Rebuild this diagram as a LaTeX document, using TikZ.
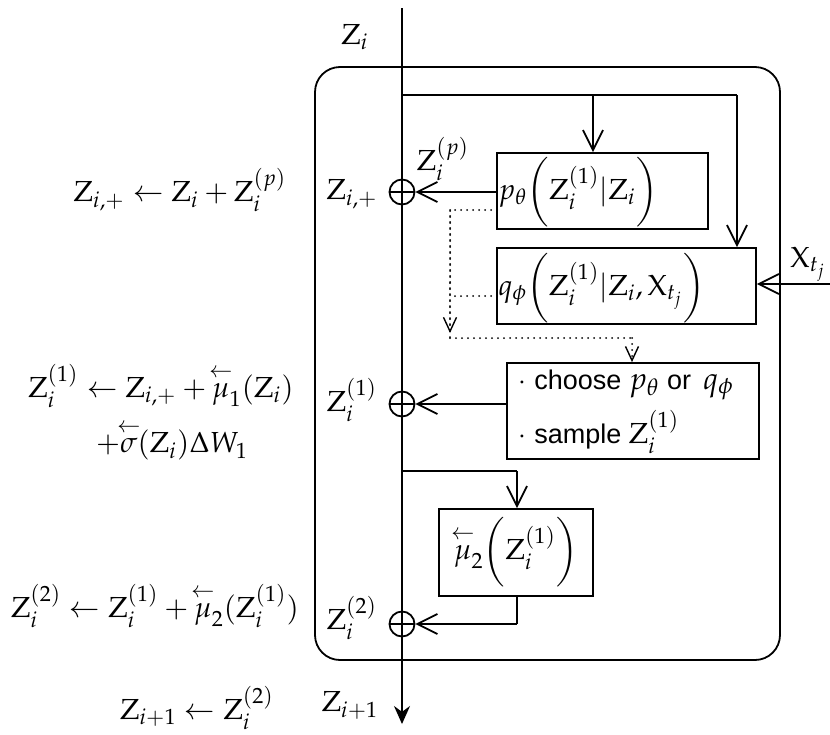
\documentclass[tikz,border=0pt]{standalone}
\usepackage{amsmath}
\usepackage{mathpazo}
\usepackage[no-math]{fontspec}
\newfontfamily\sansf{Liberation Sans}
\usetikzlibrary{arrows.meta,calc}
\newcommand\Zr{\mathrm{Z}}
\newcommand\Xr{\mathrm{X}}
\newcommand\bk[1]{\overset{\makebox[0pt]{$\scriptstyle\leftarrow$}}{#1}}
\begin{document}
\begin{tikzpicture}[x=0.5pt,y=-0.5pt,
  every node/.style={font=\fontsize{14.5}{17}\selectfont, inner sep=0pt},
  ln/.style={line width=0.9pt},
  box/.style={draw, line width=0.9pt, inner sep=0pt},
  plusnode/.style={circle, draw, line width=0.9pt, minimum size=12.5pt, inner sep=0pt,
    path picture={\draw[line width=0.9pt] (path picture bounding box.west) -- (path picture bounding box.east);}},
  arr/.style={ln, -{Straight Barb[length=10pt,width=10pt,line width=0.9pt]}},
  dotline/.style={line width=1pt, line cap=round, dash pattern=on 0pt off 3pt},
  dotarr/.style={dotline, -{Straight Barb[length=7pt,width=6.5pt,line width=0.7pt,sep=0pt]}},
  endarr/.style={ln, -{Stealth[length=9pt,width=8pt]}},
  sf/.style={font=\sansf\fontsize{13.5}{16}\selectfont}
]
\useasboundingbox (0,0) rectangle (830,734);

% outer rounded frame
\draw[ln, rounded corners=12.5pt] (315,67) rectangle (780,660);

% boxes
\node[box, minimum width=105.5pt, minimum height=38pt] (p) at (602.5,191) {};
\node[box, minimum width=129.5pt, minimum height=38pt] (q) at (626.5,286) {};
\node[box, minimum width=126pt, minimum height=48pt] (ch) at (633,411) {};
\node[box, minimum width=77pt, minimum height=43.5pt] (mu) at (516,552.5) {};

% box texts
\node[anchor=west] (pt) at (498,192) {$p_\theta\biggl(\Zr_i^{(1)}|\Zr_i\biggr)$};
\node[anchor=west] (qt) at (498,288) {$q_\phi\biggl(\Zr_i^{(1)}|\Zr_i,\Xr_{t_j}\biggr)$};
\node[anchor=west, sf] (c1) at (518,385) {$\cdot$ choose {\fontsize{15.5}{17}\selectfont$p_\theta$} or \,{\fontsize{15.5}{17}\selectfont$q_\phi$}};
\node[anchor=west, sf] (c2) at (518,432) {$\cdot$ sample {\fontsize{14.5}{17}\selectfont$\Zr_i^{(1)}$}};
\node (mt) at (516,552) {$\bk{\mu}_2\biggl(\Zr_i^{(1)}\biggr)$};

% plus nodes
\node[plusnode] (o1) at (402,192) {};
\node[plusnode] (o2) at (402,404) {};
\node[plusnode] (o3) at (402,624) {};

% main line
\coordinate (top) at (402,8);
\coordinate (bot) at (402,724);
\draw[endarr] (top) -- (bot);

% branches
\coordinate (b1) at (402,95);
\coordinate (b2) at (593,95);
\coordinate (b3) at (737,95);
\draw[ln] (b1) -- (b3);
\draw[arr] (b2) -- (b2 |- p.north);
\draw[arr] (b3) -- (b3 |- q.north);

% p -> o1
\draw[arr] (p.west |- o1) -- (o1);
% X_tj
\coordinate (xin) at (830,284);
\draw[arr] (xin) -- (xin -| q.east);
\node (xl) at (808,264) {$\Xr_{t_j}$};

% dotted
\coordinate (d1) at (497,210);
\coordinate (d2) at (497,296);
\coordinate (dc) at (450,338);
\coordinate (dm) at (632,338);
\draw[dotline] (d1) -- (d1 -| dc) -- (dc);
\draw[dotarr] (dc |- d1) -- ($(dc)+(0,-5)$);
\draw[dotline] (d2) -- (d2 -| dc);
\draw[dotline] (dc) -- (dm);
\draw[dotarr] (dm) -- (dm |- ch.north);

% choose -> o2
\draw[arr] (ch.west |- o2) -- (o2);

% mu branch
\coordinate (m1) at (402,471);
\coordinate (m2) at (517,471);
\draw[ln] (m1) -- (m2);
\draw[arr] (m2) -- (m2 |- mu.north);
\coordinate (m3) at (517,624);
\draw[ln] (m2 |- mu.south) -- (m3);
\draw[arr] (m3) -- (o3);

% labels near main line
\node (lzi) at (355,37) {$\Zr_i$};
\node (lzp) at (352,194) {$\Zr_{i,+}$};
\node (lzpp) at (443,159) {$\Zr_i^{(p)}$};
\node (lz1) at (352,400) {$\Zr_i^{(1)}$};
\node (lz2) at (352,618) {$\Zr_i^{(2)}$};
\node (lzn) at (350,705) {$\Zr_{i+1}$};

% left equations
\node (e1) at (180,190) {$\Zr_{i,+}\leftarrow \Zr_i+\Zr_i^{(p)}$};
\node (e2) at (161,386) {$\Zr_i^{(1)}\leftarrow \Zr_{i,+}+\bk{\mu}_1(\Zr_i)$};
\node (e3) at (172,441) {$+\bk{\sigma}(\Zr_i)\Delta W_1$};
\node (e4) at (155,606) {$\Zr_i^{(2)}\leftarrow \Zr_i^{(1)}+\bk{\mu}_2(\Zr_i^{(1)})$};
\node (e5) at (197,708) {$\Zr_{i+1}\leftarrow \Zr_i^{(2)}$};
\end{tikzpicture}
\end{document}
